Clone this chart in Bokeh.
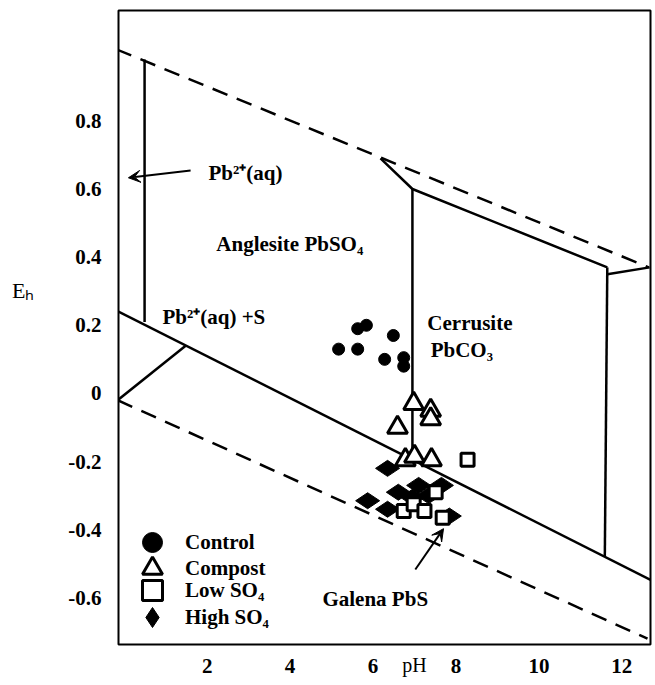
import math
from bokeh.plotting import figure
from bokeh.models import (Range1d, FixedTicker, Arrow, VeeHead, Legend, LegendItem,
                          LinearAxis)
from bokeh.core.properties import value
from bokeh.embed import file_html
from bokeh.resources import INLINE

FONT = "Liberation Serif"

# ---- axis ticks ----
x_ticks = [2, 4, 6, 8, 10, 12]
y_ticks = [-0.6, -0.4, -0.2, 0, 0.2, 0.4, 0.6, 0.8]
y_tick_labels = {-0.6: "-0.6", -0.4: "-0.4", -0.2: "-0.2", 0: "0",
                 0.2: "0.2", 0.4: "0.4", 0.6: "0.6", 0.8: "0.8"}
x_title = "pH"
y_title = "Eₕ"

# ---- measured soil points (pH, Eh) ----
control_ph = [5.63, 5.84, 5.17, 5.63, 6.49, 6.28, 6.74, 6.74]
control_eh = [0.19, 0.20, 0.13, 0.13, 0.17, 0.10, 0.105, 0.08]
compost_ph = [6.98, 7.39, 7.39, 6.59, 6.78, 7.00, 7.41]
compost_eh = [-0.03, -0.05, -0.075, -0.10, -0.195, -0.185, -0.195]
low_so4_ph = [8.28, 6.74, 6.98, 7.24, 7.51, 7.68]
low_so4_eh = [-0.195, -0.345, -0.325, -0.345, -0.29, -0.365]
high_so4_ph = [6.35, 5.87, 6.35, 6.61, 7.10, 7.34, 7.65, 7.84, 6.95]
high_so4_eh = [-0.22, -0.315, -0.34, -0.29, -0.27, -0.30, -0.27, -0.36, -0.305]

# ---- water stability limits (dashed) ----
water_o2_ph = [-0.19, 12.65]
water_o2_eh = [1.01, 0.37]
water_h2_ph = [-0.16, 12.62]
water_h2_eh = [-0.02, -0.72]

# ---- phase boundaries (solid) ----
boundary_ph = [
    [-0.14, 12.74],
    [-0.16, 1.48],
    [0.49, 0.49],
    [6.18, 6.95, 11.65],
    [6.95, 6.95],
    [11.65, 11.59],
    [11.65, 12.67],
]
boundary_eh = [
    [0.24, -0.55],
    [-0.02, 0.14],
    [0.98, 0.21],
    [0.69, 0.60, 0.37],
    [0.60, -0.20],
    [0.37, -0.48],
    [0.35, 0.37],
]

# ---- region labels ----
region_text = ["Pb²⁺(aq)", "Anglesite PbSO₄", "Pb²⁺(aq) +S", "Cerrusite", "PbCO₃", "Galena PbS"]
region_ph = [2.03, 2.22, 0.92, 7.31, 7.39, 4.78]
region_eh = [0.648, 0.44, 0.223, 0.208, 0.126, -0.602]

# ---- arrows (start pH, start Eh, end pH, end Eh) ----
arrow_aq = [1.60, 0.654, 0.10, 0.633]
arrow_galena = [7.02, -0.517, 7.70, -0.397]

# ---- legend ----
legend_labels = ["Control", "Compost", "Low SO₄", "High SO₄"]

p = figure(width=655, height=685,
           x_range=Range1d(-0.139, 12.692), y_range=Range1d(-0.737, 1.124),
           output_backend="svg", toolbar_location=None,
           min_border_left=118, min_border_right=5, min_border_top=10, min_border_bottom=41)
p.background_fill_color = "white"
p.border_fill_color = "white"
p.xgrid.visible = False
p.ygrid.visible = False
p.outline_line_color = "black"
p.outline_line_width = 2
p.outline_line_alpha = 1.0


def style_axis(ax, bold=True, size="21px"):
    ax.axis_line_color = None
    ax.major_tick_line_color = None
    ax.minor_tick_line_color = None
    ax.major_tick_out = 0
    ax.major_tick_in = 0
    ax.major_label_text_font = FONT
    ax.major_label_text_font_style = "bold" if bold else "normal"
    ax.major_label_text_font_size = size
    ax.major_label_text_color = "black"


style_axis(p.xaxis[0])
style_axis(p.yaxis[0])
p.xaxis[0].ticker = FixedTicker(ticks=x_ticks)
p.yaxis[0].ticker = FixedTicker(ticks=y_ticks)
p.yaxis[0].major_label_overrides = y_tick_labels
p.xaxis[0].major_label_standoff = 14
p.yaxis[0].major_label_standoff = 17

# axis titles, placed as extra axes so they sit where the original puts them
eh_axis = LinearAxis(ticker=FixedTicker(ticks=[0.302]), major_label_overrides={0.302: y_title})
style_axis(eh_axis, bold=False, size="22px")
eh_axis.major_label_standoff = 31
p.add_layout(eh_axis, "left")

ph_axis = LinearAxis(ticker=FixedTicker(ticks=[7.0]), major_label_overrides={7.0: x_title})
style_axis(ph_axis, bold=False, size="20px")
try:
    ph_axis.major_label_standoff = -22
except Exception:
    ph_axis.major_label_standoff = 0
p.add_layout(ph_axis, "below")

# water limits
p.line(water_o2_ph, water_o2_eh, line_color="black", line_width=2.5, line_dash="16 10")
p.line(water_h2_ph, water_h2_eh, line_color="black", line_width=2.5, line_dash="16 10")
# boundaries
p.multi_line(boundary_ph, boundary_eh, line_color="black", line_width=2.5)

# region labels
p.text(region_ph, region_eh, text=region_text, text_font=value(FONT), text_font_style="bold",
       text_font_size="21px", text_align="left", text_baseline="middle", text_color="black")

# arrows
p.add_layout(Arrow(x_start=arrow_aq[0], y_start=arrow_aq[1], x_end=arrow_aq[2], y_end=arrow_aq[3],
                   line_width=2, line_color="black",
                   end=VeeHead(size=12, fill_color="black", line_color="black")))
p.add_layout(Arrow(x_start=arrow_galena[0], y_start=arrow_galena[1], x_end=arrow_galena[2], y_end=arrow_galena[3],
                   line_width=2, line_color="black",
                   end=VeeHead(size=12, fill_color="black", line_color="black")))

# data
r_ctrl = p.scatter(control_ph, control_eh, marker="circle", size=12, fill_color="black", line_color="black")
r_high = p.scatter(high_so4_ph, high_so4_eh, marker="diamond", size=24, angle=math.pi / 2,
                   fill_color="black", line_color="black")
r_low = p.scatter(low_so4_ph, low_so4_eh, marker="square", size=13, fill_color="white",
                  line_color="black", line_width=3)
r_comp = p.scatter(compost_ph, compost_eh, marker="triangle", size=20, fill_color="white",
                   line_color="black", line_width=3)

# legend: one compact legend per row so that rows sit 25 px apart
legend_rows = [(legend_labels[0], r_ctrl, 77), (legend_labels[1], r_comp, 51),
               (legend_labels[2], r_low, 29), (legend_labels[3], r_high, 2)]
for lab, rend, ypos in legend_rows:
    lg = Legend(items=[LegendItem(label=lab, renderers=[rend])],
                location=(9, ypos), padding=0, margin=0, spacing=0,
                glyph_width=50, glyph_height=50, label_standoff=8,
                border_line_color=None, background_fill_alpha=0,
                label_text_font=FONT, label_text_font_style="bold",
                label_text_font_size="21px", label_text_color="black")
    p.add_layout(lg)

open("out.html", "w").write(file_html(p, INLINE))
